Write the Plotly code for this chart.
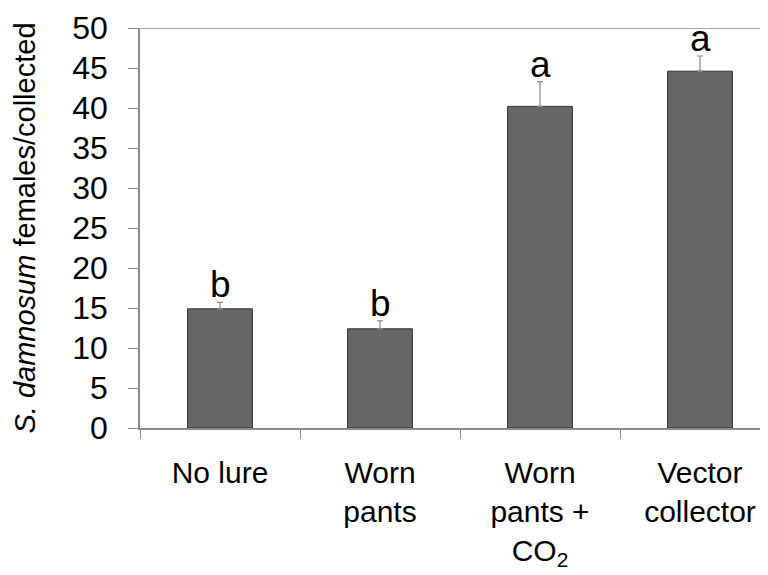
import plotly.graph_objects as go

categories = ["No lure", "Worn<br>pants", "Worn<br>pants +<br>CO<sub>2</sub>", "Vector<br>collector"]
means = [14.9, 12.4, 40.2, 44.6]
errors = [0.8, 1.0, 3.1, 1.9]
letters = ["b", "b", "a", "a"]
y_ticks = [0, 5, 10, 15, 20, 25, 30, 35, 40, 45, 50]

FONT = "Liberation Sans, Arial, sans-serif"
AXIS_GRAY = "#8a8a8a"

fig = go.Figure()
fig.add_trace(go.Bar(
    x=categories, y=means,
    width=0.405,
    marker=dict(color="#666666", line=dict(color="#333333", width=1)),
    error_y=dict(type="data", array=errors, arrayminus=[0]*len(errors), symmetric=False,
                 color="#8a8a8a", thickness=1.2, width=3),
    showlegend=False,
))

for c, m, e, l in zip(categories, means, errors, letters):
    fig.add_annotation(x=c, y=m + e, text=l, showarrow=False, yanchor="bottom",
                       yshift=-5, font=dict(family=FONT, size=37, color="black"))

fig.add_shape(type="line", xref="paper", yref="y", x0=0, x1=1, y0=50, y1=50,
              line=dict(color=AXIS_GRAY, width=1.5))

fig.update_layout(
    width=768, height=575,
    margin=dict(l=132, r=0, t=20, b=155),
    plot_bgcolor="white", paper_bgcolor="white",
    font=dict(family=FONT, color="black"),
    bargap=0.6,
)
fig.update_xaxes(
    type="category", range=[-0.5, 3.475], automargin=False,
    showline=True, linecolor=AXIS_GRAY, linewidth=1.5,
    ticks="outside", tickson="boundaries", ticklen=9, tickcolor=AXIS_GRAY, tickwidth=1.2,
    tickfont=dict(family=FONT, size=30, color="black"),
    ticklabelstandoff=17,
    showgrid=False,
)
fig.update_yaxes(
    range=[0, 50], tickvals=y_ticks, automargin=False,
    showline=True, linecolor=AXIS_GRAY, linewidth=1.5,
    ticks="outside", ticklen=10, tickcolor=AXIS_GRAY, tickwidth=1.2,
    tickfont=dict(family=FONT, size=32, color="black"),
    ticklabelstandoff=14,
    showgrid=False, zeroline=False,
    title=dict(text="<i>S. damnosum</i> females/collected",
               font=dict(family=FONT, size=29, color="black"), standoff=28),
)

fig.write_html("out.html")
